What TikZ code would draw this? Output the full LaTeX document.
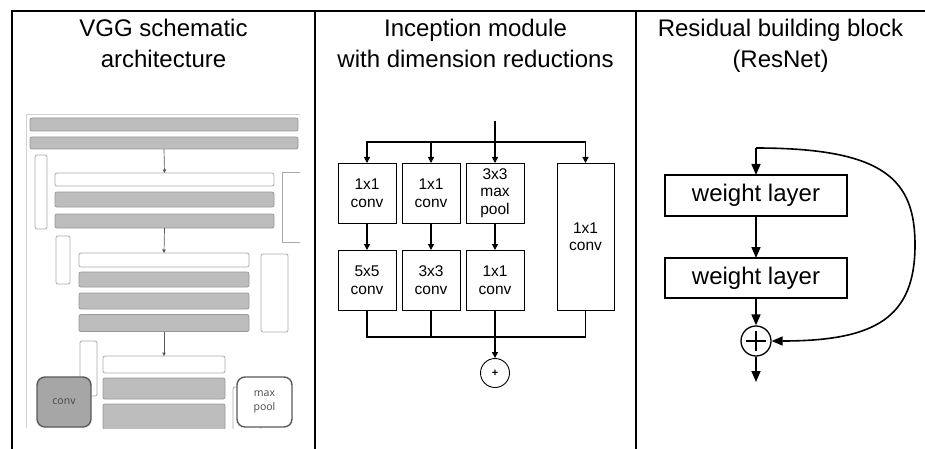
\documentclass[tikz,border=0pt]{standalone}
\usepackage{fontspec}
\setmainfont{Liberation Sans}
\newfontfamily\vggfont{Open Sans}
\usetikzlibrary{arrows.meta}

\definecolor{vggfill}{HTML}{BDBDBD}
\definecolor{vggedge}{HTML}{989898}
\definecolor{vggline}{HTML}{AAAAAA}
\definecolor{vggframe}{HTML}{D2D2D2}
\definecolor{vggdark}{HTML}{5A5A5A}
\definecolor{convfill}{HTML}{A6A6A6}
\definecolor{vggtext}{HTML}{474747}

\begin{document}
\begin{tikzpicture}[x=1pt,y=-1pt,
  panelrule/.style={line width=2pt, black},
  paneltitle/.style={anchor=base, inner sep=0pt, font=\fontsize{24}{28}\selectfont},
  graybar/.style={draw=vggedge, fill=vggfill, line width=0.8pt, rounded corners=2pt, inner sep=0pt, outer sep=0pt},
  whitebar/.style={draw=vggline, fill=white, line width=0.8pt, rounded corners=2pt, inner sep=0pt, outer sep=0pt},
  vggarrow/.style={draw=vggdark, line width=0.7pt, -{Triangle[length=3.5pt,width=3.5pt]}},
  legendbox/.style={draw=vggdark, line width=1.4pt, rounded corners=8pt, inner sep=0pt,
    minimum width=54, minimum height=50, text=vggtext, align=center,
    font=\vggfont\fontsize{10.5}{14}\selectfont},
  incbox/.style={draw, line width=0.9pt, inner sep=0pt, outer sep=0pt, align=center,
    minimum width=58, font=\fontsize{15.5}{17.5}\selectfont},
  incline/.style={line width=1.3pt},
  incarrow/.style={line width=1.3pt, -{Triangle[length=6pt,width=6pt]}},
  resbox/.style={draw, line width=1.3pt, inner sep=0pt, outer sep=0pt,
    minimum width=182, minimum height=41, font=\fontsize{24}{28}\selectfont},
  resarrow/.style={line width=1.6pt, -{Triangle[length=11pt,width=9pt]}}
]
\useasboundingbox (0,0) rectangle (925,449);

% ---------- panel frame ----------
\draw[panelrule] (12,449) -- (12,11) -- (925,11);
\draw[panelrule] (315,11) -- (315,449);
\draw[panelrule] (636,11) -- (636,449);

% ---------- titles ----------
\node[paneltitle] (t1a) at (163.5,37) {VGG schematic};
\node[paneltitle] (t1b) at (163.5,68) {architecture};
\node[paneltitle] (t2a) at (475.5,37) {Inception module};
\node[paneltitle] (t2b) at (475.5,68) {with dimension reductions};
\node[paneltitle] (t3a) at (780.5,37) {Residual building block};
\node[paneltitle] (t3b) at (780.5,68) {(ResNet)};

% ---------- VGG schematic ----------
\begin{scope}
\clip (25,113) rectangle (300,428);
\draw[vggframe, line width=1pt] (26,428) -- (26,115) -- (300,115);
% block 1
\node[graybar, minimum width=268, minimum height=13] (v1) at (164,124.5) {};
\node[graybar, minimum width=268, minimum height=12] (v2) at (164,143) {};
% block 2
\node[whitebar, minimum width=12, minimum height=74] (s1) at (41,192) {};
\node[whitebar, minimum width=219, minimum height=13] (c1) at (164.5,179.5) {};
\node[graybar, minimum width=219, minimum height=15] (c2) at (164.5,199.5) {};
\node[graybar, minimum width=219, minimum height=14] (c3) at (164.5,221) {};
\draw[vggline, line width=0.8pt] (302,172) -- (282,172) -- (282,242) -- (302,242);
% block 3
\node[whitebar, minimum width=14, minimum height=48] (s2) at (63,260) {};
\node[whitebar, minimum width=170, minimum height=14] (d1) at (164,260) {};
\node[graybar, minimum width=170, minimum height=15] (d2) at (164,279.5) {};
\node[graybar, minimum width=170, minimum height=16] (d3) at (164,301) {};
\node[graybar, minimum width=170, minimum height=17] (d4) at (164,323) {};
\node[whitebar, minimum width=27, minimum height=78] (s3) at (274.5,293) {};
% block 4
\node[whitebar, minimum width=17, minimum height=55] (s4) at (88.5,368.5) {};
\node[whitebar, minimum width=122, minimum height=17] (e1) at (164,364.5) {};
\node[graybar, minimum width=122, minimum height=21] (e2) at (164,388.5) {};
\node[graybar, minimum width=122, minimum height=26] (e3) at (164,417) {};
\node[whitebar, minimum width=28, minimum height=60] (s5) at (247,417) {};
% connections between blocks
\draw[vggarrow] (v2.south) -- (c1.north);
\draw[vggarrow] (c3.south) -- (d1.north);
\draw[vggarrow] (d4.south) -- (e1.north);
% legend
\node[legendbox, fill=convfill] (convkey) at (64,402) {conv};
\node[legendbox, fill=white, minimum width=55] (poolkey) at (264.5,402) {max\\pool};
\end{scope}

% ---------- Inception module ----------
\coordinate (incin) at (495,121);
\coordinate (split) at (495,142);
\node[incbox, minimum height=60] (a1) at (367,193) {1x1\\conv};
\node[incbox, minimum height=60] (b1) at (431,193) {1x1\\conv};
\node[incbox, minimum height=60] (c1i) at (495,193) {3x3\\max\\pool};
\node[incbox, minimum width=57, minimum height=147] (dd) at (585.5,236.5) {1x1\\conv};
\node[incbox, minimum height=60] (a2) at (367,280) {5x5\\conv};
\node[incbox, minimum height=60] (b2) at (431,280) {3x3\\conv};
\node[incbox, minimum height=60] (c2i) at (495,280) {1x1\\conv};
\node[circle, draw, line width=0.9pt, minimum size=29, inner sep=0pt,
      font=\bfseries\fontsize{11}{13}\selectfont] (sum) at (495,373) {+};
\coordinate (merge) at (495,337);

\draw[incline] (incin) -- (split);
\draw[incarrow] (split) -- (c1i.north);
\draw[incarrow] (split) -| (a1.north);
\draw[incarrow] (split) -| (b1.north);
\draw[incarrow] (split) -| (dd.north);
\draw[incarrow] (a1) -- (a2);
\draw[incarrow] (b1) -- (b2);
\draw[incarrow] (c1i) -- (c2i);
\draw[incline] (a2.south) |- (merge);
\draw[incline] (b2.south) |- (merge);
\draw[incline] (dd.south) |- (merge);
\draw[incarrow] (c2i.south) -- (sum.north);

% ---------- Residual block ----------
\coordinate (resin) at (756,148);
\node[resbox] (w1) at (756,195.5) {weight layer};
\node[resbox, minimum height=40] (w2) at (756,278) {weight layer};
\node[circle, draw, line width=1.3pt, minimum size=30, inner sep=0pt] (add) at (756,341) {};
\draw[line width=1.3pt] ([xshift=-10pt]add.center) -- ([xshift=10pt]add.center);
\draw[line width=1.3pt] ([yshift=-10pt]add.center) -- ([yshift=10pt]add.center);
\coordinate (resout) at (756,382);

\draw[resarrow] (resin) -- (w1);
\draw[resarrow] (w1) -- (w2);
\draw[resarrow] (w2) -- (add);
\draw[resarrow] (add) -- (resout);
\draw[resarrow] (resin) .. controls (885,148) and (915,180) .. (915,245)
                        .. controls (915,318) and (875,341) .. (add.east);
\end{tikzpicture}
\end{document}
